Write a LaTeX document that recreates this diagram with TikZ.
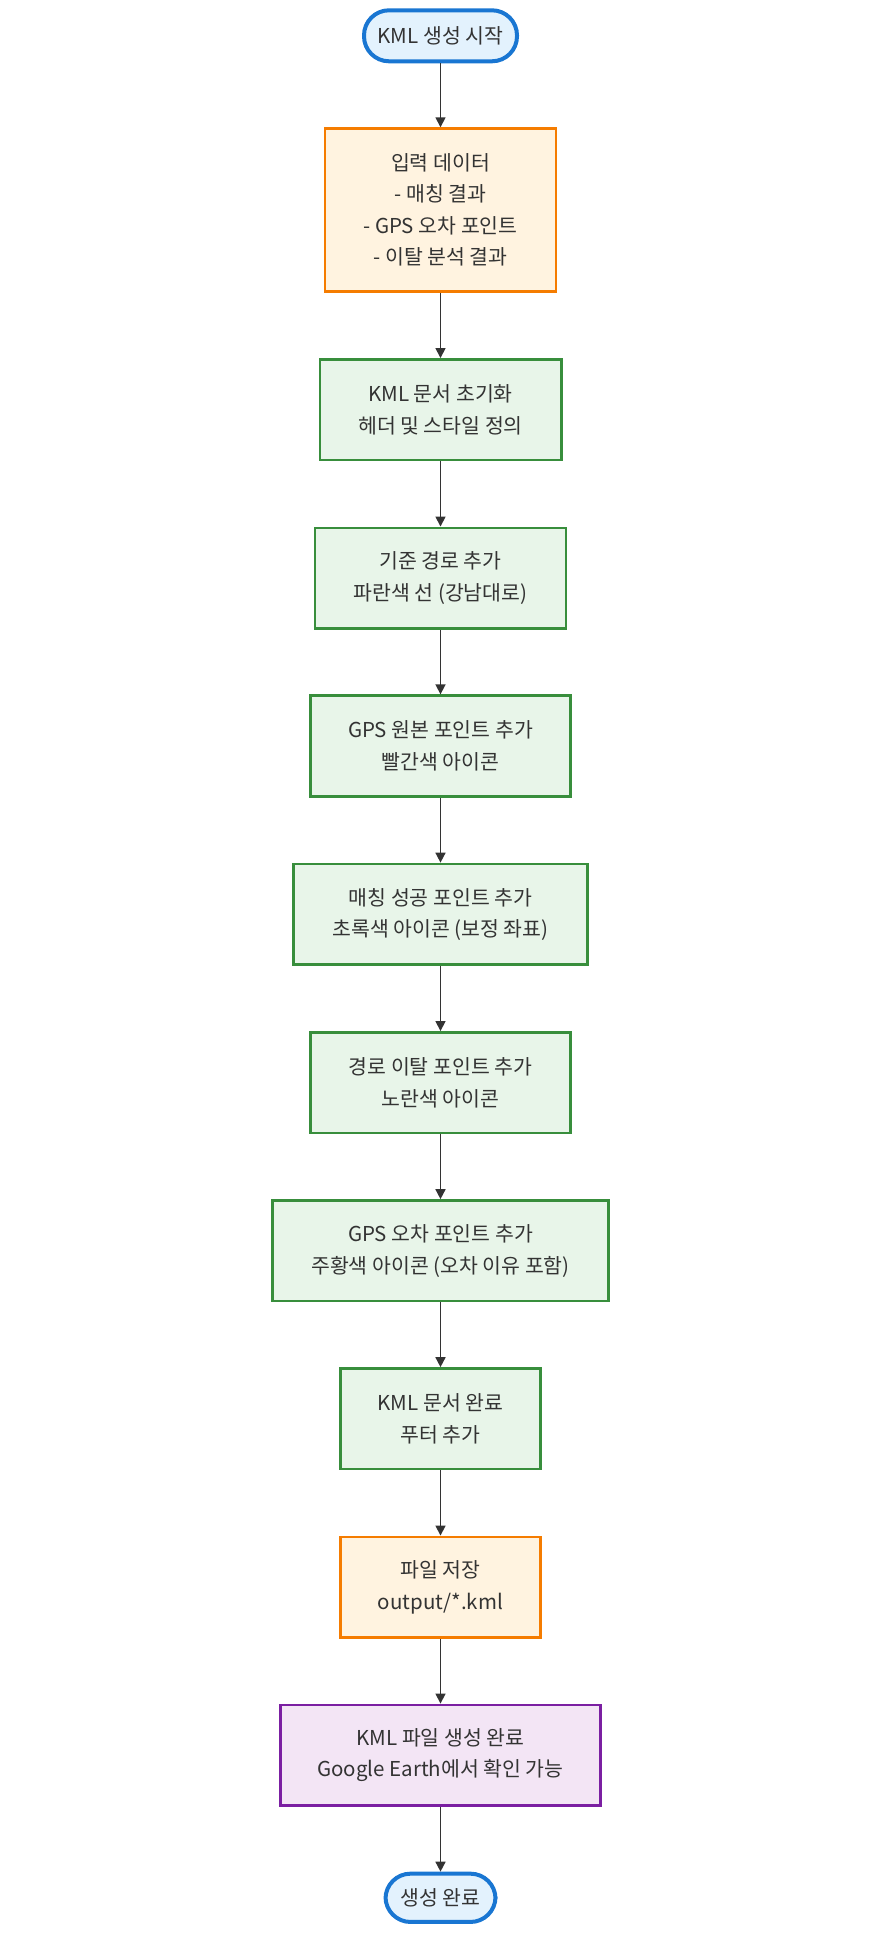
\documentclass[tikz,border=0pt]{standalone}
\usepackage{fontspec}
\setmainfont{Noto Sans CJK KR}
\usetikzlibrary{arrows.meta}
\definecolor{tfill}{HTML}{E3F2FD}
\definecolor{tdraw}{HTML}{1976D2}
\definecolor{ofill}{HTML}{FFF3E0}
\definecolor{odraw}{HTML}{F57C00}
\definecolor{gfill}{HTML}{E8F5E9}
\definecolor{gdraw}{HTML}{388E3C}
\definecolor{pfill}{HTML}{F3E5F5}
\definecolor{pdraw}{HTML}{7B1FA2}
\definecolor{ink}{HTML}{333333}
\tikzset{
  base/.style={align=center, inner sep=0pt, text=ink, font=\fontsize{20.5}{31.5}\selectfont},
  term/.style={base, draw=tdraw, fill=tfill, line width=4pt, rounded corners=25pt, minimum height=51pt},
  obox/.style={base, draw=odraw, fill=ofill, line width=2.7pt, minimum height=100.6pt},
  gbox/.style={base, draw=gdraw, fill=gfill, line width=2.7pt, minimum height=100.6pt},
  pbox/.style={base, draw=pdraw, fill=pfill, line width=2.7pt, minimum height=100.6pt},
  arr/.style={draw=ink, line width=1.6pt, -{Triangle[length=10pt,width=10pt]}}
}
\begin{document}
\begin{tikzpicture}[x=1pt,y=-1pt]
\useasboundingbox (0,0) rectangle (881,1934);
\node[term, minimum width=153pt] (start) at (440.5,35.8) {KML 생성 시작};
\node[obox, minimum width=231pt, minimum height=162.7pt] (input) at (440.5,210) {입력 데이터\\- 매칭 결과\\- GPS 오차 포인트\\- 이탈 분석 결과};
\node[gbox, minimum width=241.3pt] (init) at (440.5,409.7) {KML 문서 초기화\\헤더 및 스타일 정의};
\node[gbox, minimum width=251pt] (route) at (440.5,578.2) {기준 경로 추가\\파란색 선 (강남대로)};
\node[gbox, minimum width=259.7pt] (raw) at (440.5,746) {GPS 원본 포인트 추가\\빨간색 아이콘};
\node[gbox, minimum width=294.3pt] (match) at (440.5,914.3) {매칭 성공 포인트 추가\\초록색 아이콘 (보정 좌표)};
\node[gbox, minimum width=260pt] (dev) at (440.5,1082.7) {경로 이탈 포인트 추가\\노란색 아이콘};
\node[gbox, minimum width=336.3pt] (err) at (440.5,1250.8) {GPS 오차 포인트 추가\\주황색 아이콘 (오차 이유 포함)};
\node[gbox, minimum width=200pt] (close) at (440.5,1418.8) {KML 문서 완료\\푸터 추가};
\node[obox, minimum width=200.6pt] (save) at (440.5,1587.2) {파일 저장\\output/*.kml};
\node[pbox, minimum width=320.6pt] (done) at (440.5,1755.2) {KML 파일 생성 완료\\Google Earth에서 확인 가능};
\node[term, minimum width=110pt, minimum height=48.3pt] (end) at (440.5,1897.8) {생성 완료};
\draw[arr] (start) -- (input);
\draw[arr] (input) -- (init);
\draw[arr] (init) -- (route);
\draw[arr] (route) -- (raw);
\draw[arr] (raw) -- (match);
\draw[arr] (match) -- (dev);
\draw[arr] (dev) -- (err);
\draw[arr] (err) -- (close);
\draw[arr] (close) -- (save);
\draw[arr] (save) -- (done);
\draw[arr] (done) -- (end);
\end{tikzpicture}
\end{document}
